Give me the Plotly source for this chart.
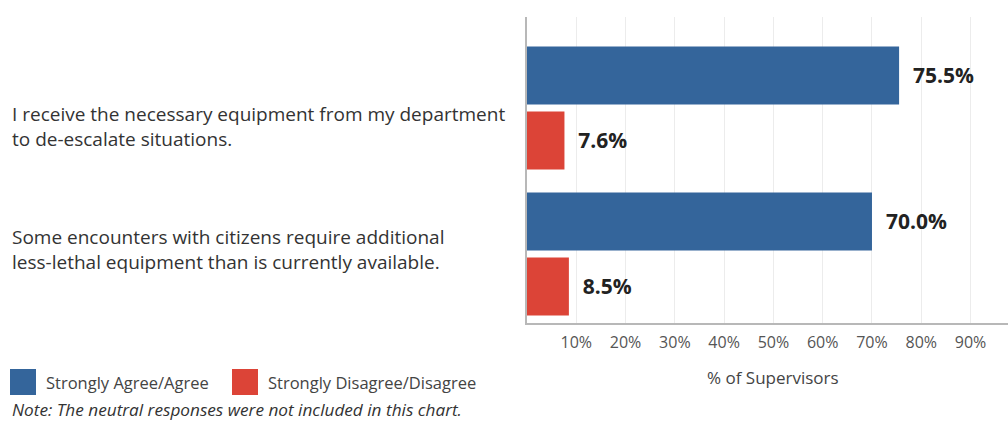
import plotly.graph_objects as go

# ---- data ----
statements = [
    "I receive the necessary equipment from my department<br>to de-escalate situations.",
    "Some encounters with citizens require additional<br>less-lethal equipment than is currently available.",
]
series_names = ["Strongly Agree/Agree", "Strongly Disagree/Disagree"]
agree = [75.5, 70.0]
disagree = [7.6, 8.5]
tick_vals = [10, 20, 30, 40, 50, 60, 70, 80, 90]
tick_text = ["10%", "20%", "30%", "40%", "50%", "60%", "70%", "80%", "90%"]
axis_title = "% of Supervisors"
note_text = "Note: The neutral responses were not included in this chart."

# ---- layout geometry ----
W, H = 1008, 426
L, T, R, B = 527, 17, 0, 103
PW = W - L - R
PH = H - T - B


def px(x):
    return (x - L) / PW


def py(y):
    return (H - B - y) / PH


BLUE = "#34659b"
RED = "#dc4437"
FONT = "Open Sans"

fig = go.Figure()
for vals, name, color in [(agree, series_names[0], BLUE), (disagree, series_names[1], RED)]:
    fig.add_trace(go.Bar(
        y=statements, x=vals, orientation="h", name=name,
        marker=dict(color=color, line=dict(width=0)),
        text=["\u00a0\u00a0" + f"{v:.1f}%" for v in vals],
        textposition="outside", constraintext="none", cliponaxis=False,
        textfont=dict(family=FONT, size=21, color="#222222", weight="bold"),
        showlegend=False, hoverinfo="skip",
    ))

annotations = []
# category labels (left aligned)
label_shifts = [-19, 4]
for s, sh in zip(statements, label_shifts):
    annotations.append(dict(
        x=px(10), xref="paper", y=s, yref="y", yshift=sh,
        text=s, showarrow=False, xanchor="left", yanchor="middle", align="left",
        font=dict(family=FONT, size=19, color="#333333"),
    ))
# x axis title
annotations.append(dict(
    x=50, xref="x", y=py(377), yref="paper", text=axis_title, showarrow=False,
    xanchor="center", yanchor="middle", font=dict(family=FONT, size=17, color="#444444"),
))
# legend
shapes = []
legend_items = [(series_names[0], BLUE, 10, 44), (series_names[1], RED, 232, 266)]
for name, color, sx, tx in legend_items:
    shapes.append(dict(type="rect", xref="paper", yref="paper",
                       x0=px(sx), x1=px(sx + 26), y0=py(395), y1=py(369),
                       fillcolor=color, line=dict(width=0)))
    annotations.append(dict(
        x=px(tx), xref="paper", y=py(382), yref="paper", text=name, showarrow=False,
        xanchor="left", yanchor="middle", font=dict(family=FONT, size=16.5, color="#444444"),
    ))
annotations.append(dict(
    x=px(10), xref="paper", y=py(410), yref="paper", text="<i>" + note_text + "</i>",
    showarrow=False, xanchor="left", yanchor="middle",
    font=dict(family=FONT, size=17.2, color="#333333"),
))

fig.update_layout(
    width=W, height=H,
    margin=dict(l=L, r=R, t=T, b=B, autoexpand=False),
    paper_bgcolor="white", plot_bgcolor="white",
    barmode="group", bargap=0.11, bargroupgap=0.108,
    font=dict(family=FONT),
    xaxis=dict(
        range=[0, 97.6], tickvals=tick_vals, ticktext=tick_text,
        showgrid=True, gridcolor="#ececec", gridwidth=1,
        showline=True, linecolor="#b8b8b8", linewidth=1.5,
        zeroline=False, ticks="", ticklabelstandoff=4,
        tickfont=dict(family=FONT, size=16, color="#555555"),
    ),
    yaxis=dict(
        type="category", range=[1.473, -0.623], showticklabels=False,
        showline=True, linecolor="#b8b8b8", linewidth=1.5,
        showgrid=False, zeroline=False, ticks="",
    ),
    annotations=annotations, shapes=shapes,
)

fig.write_html("out.html", config={"displayModeBar": False},
               post_script="document.body.style.margin='0';")
